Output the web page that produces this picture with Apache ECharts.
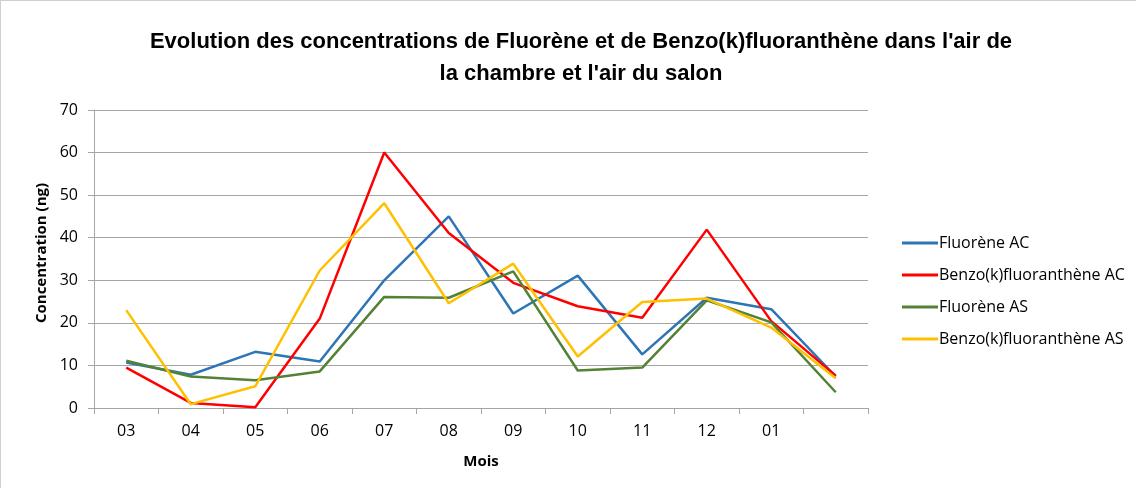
<!DOCTYPE html>
<html>
<head>
<meta charset="utf-8">
<script src="https://cdn.jsdelivr.net/npm/echarts@6/dist/echarts.min.js"></script>
<style>
  html, body { margin: 0; padding: 0; background: #fff; }
  #chart { width: 1136px; height: 488px; box-sizing: border-box; border-top: 1px solid #d0d0d0; border-left: 1px solid #d0d0d0; }
</style>
</head>
<body>
<div id="chart"></div>
<script>
const months = ['03', '04', '05', '06', '07', '08', '09', '10', '11', '12', '01', '']

const fluoreneAC = [10.7, 7.8, 13.2, 10.9, 30.0, 45.0, 22.2, 31.1, 12.6, 25.9, 23.2, 7.4]
const benzoAC = [9.5, 1.2, 0.2, 21.0, 60.0, 41.1, 29.4, 23.9, 21.2, 41.9, 20.4, 7.6]
const fluoreneAS = [11.1, 7.4, 6.5, 8.6, 26.1, 25.9, 32.1, 8.8, 9.5, 25.3, 20.1, 3.7]
const benzoAS = [23.0, 0.9, 5.1, 32.3, 48.1, 24.6, 33.9, 12.1, 24.9, 25.7, 18.9, 7.0]

const font = '"Open Sans", "Liberation Sans", sans-serif'
const titleFont = '"Liberation Sans", sans-serif'

const chart = echarts.init(document.getElementById('chart'))

const makeLine = (name, data, color) => ({
  name,
  type: 'line',
  data,
  symbol: 'none',
  lineStyle: { color, width: 2.5 },
  itemStyle: { color }
})

chart.setOption({
  animation: false,
  textStyle: { fontFamily: font },
  title: {
    text: "Evolution des concentrations de Fluorène et de Benzo(k)fluoranthène dans l'air de\nla chambre et l'air du salon",
    left: 575,
    top: 20,
    textAlign: 'center',
    textStyle: { fontSize: 22, fontWeight: 'bold', color: '#000', lineHeight: 32, fontFamily: titleFont }
  },
  legend: {
    orient: 'vertical',
    left: 896,
    top: 229,
    itemGap: 16,
    itemWidth: 36,
    itemHeight: 3,
    icon: 'rect',
    textStyle: { fontSize: 16, color: '#000', fontFamily: font, padding: [0, 0, 0, -4] }
  },
  grid: { left: 93, top: 109, right: 268, bottom: 80 },
  xAxis: {
    type: 'category',
    data: months,
    boundaryGap: true,
    name: 'Mois',
    nameLocation: 'middle',
    nameGap: 46,
    nameTextStyle: { fontSize: 15, fontWeight: 'bold', color: '#000' },
    axisLine: { lineStyle: { color: '#a6a6a6', width: 1 } },
    axisTick: { show: true, length: 6, lineStyle: { color: '#a6a6a6' } },
    axisLabel: { fontSize: 16, color: '#000', margin: 15 }
  },
  yAxis: {
    type: 'value',
    min: 0,
    max: 70,
    interval: 10,
    name: 'Concentration (ng)',
    nameLocation: 'middle',
    nameGap: 45,
    nameTextStyle: { fontSize: 15, fontWeight: 'bold', color: '#000', padding: [0, 0, 0, 12] },
    axisLine: { show: true, lineStyle: { color: '#a6a6a6' } },
    axisTick: { show: true, length: 6, inside: false, lineStyle: { color: '#a6a6a6' } },
    axisLabel: { fontSize: 16, color: '#000', margin: 16 },
    splitLine: { lineStyle: { color: '#a6a6a6', width: 1 } }
  },
  series: [
    makeLine('Fluorène AC', fluoreneAC, '#2e75b6'),
    makeLine('Benzo(k)fluoranthène AC', benzoAC, '#ff0000'),
    makeLine('Fluorène AS', fluoreneAS, '#548235'),
    makeLine('Benzo(k)fluoranthène AS', benzoAS, '#ffc000')
  ]
})
</script>
</body>
</html>
